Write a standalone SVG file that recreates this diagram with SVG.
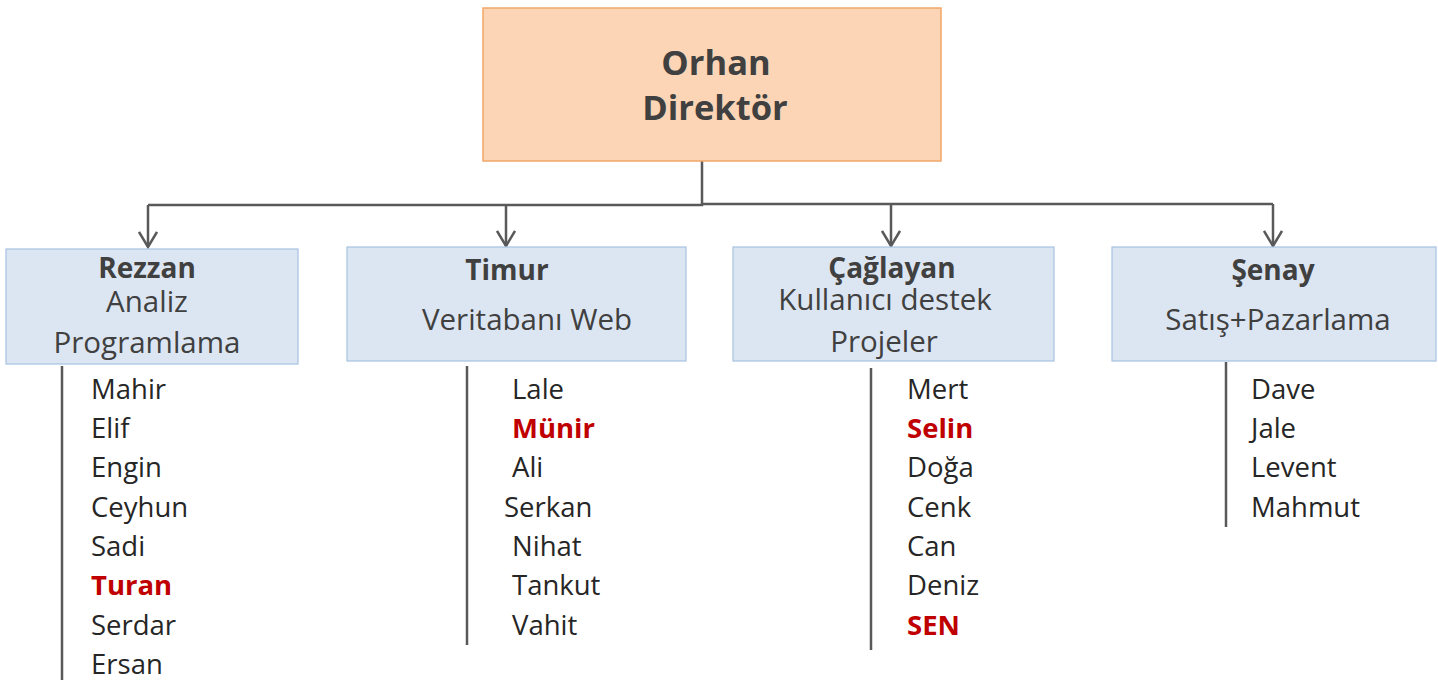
<svg xmlns="http://www.w3.org/2000/svg" width="1438" height="680" viewBox="0 0 1438 680">
<style>
.top{fill:#FBD5B5;stroke:#F2A668;stroke-width:1.5}
.box{fill:#DCE6F2;stroke:#A7C2E2;stroke-width:1.2}
.ln{fill:none;stroke:#595959;stroke-width:2.5}
.vl{fill:none;stroke:#595959;stroke-width:2.5}
.t{font-family:"Open Sans","Noto Sans",sans-serif;fill:#404040}
.hb{font-size:34.5px;font-weight:bold;text-anchor:middle}
.bb{font-size:28px;font-weight:bold;text-anchor:middle}
.bs{font-size:29.5px;text-anchor:middle}
.nm{font-family:"Open Sans","Noto Sans",sans-serif;font-size:27.5px;fill:#262626}
.red{fill:#C00000;font-weight:bold}
</style>
<defs>
<marker id="arr" viewBox="0 0 20 20" refX="18" refY="10" markerWidth="20" markerHeight="20" markerUnits="userSpaceOnUse" orient="auto">
<path d="M3,1 L18,10 L3,19" fill="none" stroke="#595959" stroke-width="2.5"/>
</marker>
</defs>
<g id="connectors">
<path class="ln" d="M702,161 V205 H148"/>
<path class="ln" d="M702,204 H1273"/>
<path class="ln" d="M148,205 V247" marker-end="url(#arr)"/>
<path class="ln" d="M506,205 V246" marker-end="url(#arr)"/>
<path class="ln" d="M891,204 V246" marker-end="url(#arr)"/>
<path class="ln" d="M1273,204 V246" marker-end="url(#arr)"/>
<path class="vl" d="M62,366 V680"/>
<path class="vl" d="M467,366 V645"/>
<path class="vl" d="M871,368 V650"/>
<path class="vl" d="M1226,362 V527"/>
</g>
<g id="orhan">
<rect class="top" x="483" y="8" width="458" height="153"/>
<text class="t hb" x="716" y="75">Orhan</text>
<text class="t hb" x="715" y="120">Direktör</text>
</g>
<g id="rezzan">
<rect class="box" x="6" y="249" width="292" height="115"/>
<text class="t bb" x="147" y="278">Rezzan</text>
<text class="t bs" x="147" y="312">Analiz</text>
<text class="t bs" x="147" y="353">Programlama</text>
</g>
<g id="timur">
<rect class="box" x="347" y="247" width="339" height="114"/>
<text class="t bb" x="507" y="280">Timur</text>
<text class="t bs" x="527" y="330">Veritabanı Web</text>
</g>
<g id="caglayan">
<rect class="box" x="733" y="247" width="321" height="114"/>
<text class="t bb" x="892" y="278">Çağlayan</text>
<text class="t bs" x="885" y="310">Kullanıcı destek</text>
<text class="t bs" x="884" y="352">Projeler</text>
</g>
<g id="senay">
<rect class="box" x="1112" y="247" width="324" height="114"/>
<text class="t bb" x="1273" y="280">Şenay</text>
<text class="t bs" x="1278" y="330">Satış+Pazarlama</text>
</g>
<g id="rezzan-team" class="nm">
<text x="91" y="399">Mahir</text>
<text x="91" y="438">Elif</text>
<text x="91" y="477">Engin</text>
<text x="91" y="517">Ceyhun</text>
<text x="91" y="556">Sadi</text>
<text x="91" y="595" class="red">Turan</text>
<text x="91" y="635">Serdar</text>
<text x="91" y="674">Ersan</text>
</g>
<g id="timur-team" class="nm">
<text x="512" y="399">Lale</text>
<text x="512" y="438" class="red">Münir</text>
<text x="512" y="477">Ali</text>
<text x="504" y="517">Serkan</text>
<text x="512" y="556">Nihat</text>
<text x="512" y="595">Tankut</text>
<text x="512" y="635">Vahit</text>
</g>
<g id="caglayan-team" class="nm">
<text x="907" y="399">Mert</text>
<text x="907" y="438" class="red">Selin</text>
<text x="907" y="477">Doğa</text>
<text x="907" y="517">Cenk</text>
<text x="907" y="556">Can</text>
<text x="907" y="595">Deniz</text>
<text x="907" y="635" class="red">SEN</text>
</g>
<g id="senay-team" class="nm">
<text x="1251" y="399">Dave</text>
<text x="1251" y="438">Jale</text>
<text x="1251" y="477">Levent</text>
<text x="1251" y="517">Mahmut</text>
</g>
</svg>
